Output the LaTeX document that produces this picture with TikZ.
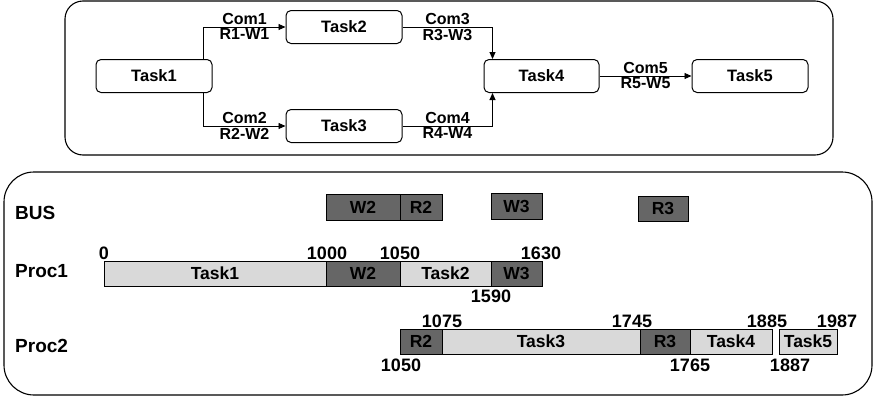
\documentclass[tikz,border=0pt]{standalone}
\usepackage{fontspec}
\setmainfont{Liberation Sans}
\usetikzlibrary{arrows.meta}
\definecolor{darkbar}{HTML}{666666}
\definecolor{lightbar}{HTML}{D9D9D9}
\begin{document}
\begin{tikzpicture}[x=1pt,y=-1pt,
  every node/.style={font=\bfseries\fontsize{16.5}{18}\selectfont},
  task/.style={draw, line width=1pt, rounded corners=5pt, minimum width=116pt, minimum height=33pt, inner sep=0pt},
  arr/.style={line width=0.9pt, -{Triangle[length=7pt,width=6pt]}},
  lab/.style={inner sep=1.5pt, font=\bfseries\fontsize{16}{17}\selectfont},
  frame/.style={draw, line width=1.1pt},
  gfont/.style={font=\bfseries\fontsize{17.5}{19}\selectfont},
  dbar/.style={draw, line width=0.9pt, fill=darkbar, minimum height=25pt, inner sep=0pt, gfont},
  lbar/.style={draw, line width=0.9pt, fill=lightbar, minimum height=25pt, inner sep=0pt, gfont},
  num/.style={anchor=base, inner sep=0pt, font=\bfseries\fontsize{18}{20}\selectfont},
  rowlab/.style={anchor=west, inner sep=0pt, font=\bfseries\fontsize{19}{21}\selectfont}
]
\useasboundingbox (0,0) rectangle (874,399);
% frames
\draw[frame, rounded corners=18pt] (65,1) rectangle (833,155);
\draw[frame, rounded corners=30pt] (4,172) rectangle (872,395);
% task graph
\node[task] (t1) at (154,76) {Task1};
\node[task] (t2) at (344,27) {Task2};
\node[task] (t3) at (344,126) {Task3};
\node[task, minimum width=115pt] (t4) at (541.5,76) {Task4};
\node[task] (t5) at (750,76) {Task5};
\draw[arr] ([xshift=-9pt]t1.north east) |- (t2.west)
  node[pos=0.75, above, lab] {Com1} node[pos=0.75, below, lab] {R1-W1};
\draw[arr] ([xshift=-9pt]t1.south east) |- (t3.west)
  node[pos=0.75, above, lab] {Com2} node[pos=0.75, below, lab] {R2-W2};
\draw[arr] (t2.east) -| ([xshift=9pt]t4.north west)
  node[pos=0.25, above, lab] {Com3} node[pos=0.25, below, lab] {R3-W3};
\draw[arr] (t3.east) -| ([xshift=9pt]t4.south west)
  node[pos=0.25, above, lab] {Com4} node[pos=0.25, below, lab] {R4-W4};
\draw[arr] (t4.east) -- (t5.west)
  node[midway, above, lab] {Com5} node[midway, below, lab] {R5-W5};
% row labels
\node[rowlab] (lbus) at (15,213) {BUS};
\node[rowlab] (lp1) at (15,271) {Proc1};
\node[rowlab] (lp2) at (15,346) {Proc2};
% BUS
\node[dbar, minimum width=74pt, minimum height=26pt] (bw2) at (363,207) {W2};
\node[dbar, minimum width=42pt, minimum height=26pt] (br2) at (421,207) {R2};
\node[dbar, minimum width=51pt, minimum height=26pt] (bw3) at (516.5,206) {W3};
\node[dbar, minimum width=50pt] (br3) at (663,208.5) {R3};
% Proc1
\node[lbar, minimum width=222pt] (p1t1) at (215,273.5) {Task1};
\node[dbar, minimum width=74pt] (p1w2) at (363,273.5) {W2};
\node[lbar, minimum width=91pt] (p1t2) at (445.5,273.5) {Task2};
\node[dbar, minimum width=51pt] (p1w3) at (516.5,273.5) {W3};
% Proc2
\node[dbar, minimum width=42pt] (p2r2) at (421,341.5) {R2};
\node[lbar, minimum width=198pt] (p2t3) at (541,341.5) {Task3};
\node[dbar, minimum width=50pt] (p2r3) at (665,341.5) {R3};
\node[lbar, minimum width=82pt] (p2t4) at (731,341.5) {Task4};
\node[lbar, minimum width=58pt] (p2t5) at (808,341.5) {Task5};
% numbers
\node[num] (n0) at (104,259) {0};
\node[num] (n1000) at (327,259) {1000};
\node[num] (n1050a) at (400,259) {1050};
\node[num] (n1630) at (541,259) {1630};
\node[num] (n1590) at (491,302) {1590};
\node[num] (n1075) at (442,327) {1075};
\node[num] (n1745) at (632,327) {1745};
\node[num] (n1885) at (767,327) {1885};
\node[num] (n1987) at (837,327) {1987};
\node[num] (n1050b) at (401,371) {1050};
\node[num] (n1765) at (690,371) {1765};
\node[num] (n1887) at (790,371) {1887};
\end{tikzpicture}
\end{document}
